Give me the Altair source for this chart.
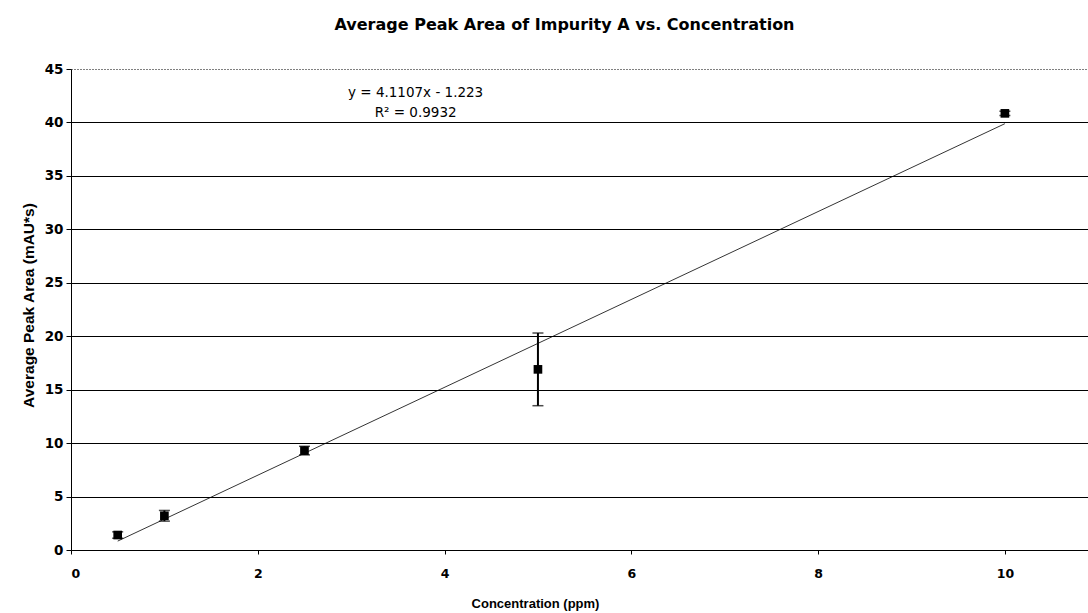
import altair as alt
import pandas as pd

# Data
conc = [0.5, 1.0, 2.5, 5.0, 10.0]
mean_area = [1.4, 3.2, 9.3, 16.9, 40.85]
err = [0.3, 0.5, 0.4, 3.4, 0.2]

slope = 4.1107
intercept = -1.223
eq_lines = ["y = 4.1107x - 1.223", "R² = 0.9932"]
eq_x = [3.69, 3.69]
eq_y = [42.38, 40.5]

x_ticks = [0, 2, 4, 6, 8, 10]
y_ticks = [0, 5, 10, 15, 20, 25, 30, 35, 40, 45]

df = pd.DataFrame({"x": conc, "y": mean_area, "e": err})
df["lo"] = df["y"] - df["e"]
df["hi"] = df["y"] + df["e"]

fit = pd.DataFrame({"x": [conc[0], conc[-1]]})
fit["y"] = slope * fit["x"] + intercept

eq = pd.DataFrame({"t": eq_lines, "x": eq_x, "y": eq_y})

FONT = "Liberation Sans"
WIDE = "DejaVu Sans"

xscale = alt.Scale(domain=[0, 10.89], nice=False, zero=False)
yscale = alt.Scale(domain=[0, 45], nice=False)

xaxis = alt.Axis(values=x_ticks, format="d", title="Concentration (ppm)", grid=False,
                 tickSize=4, labelPadding=13, labelFont=WIDE, labelFontSize=12.5,
                 labelFontWeight="bold",
                 titleFont=FONT, titleFontSize=13, titleFontWeight="bold",
                 titleX=464, titleY=47,
                 domainColor="black", tickColor="black", labelColor="black", titleColor="black")
yaxis = alt.Axis(values=y_ticks, format="d", title="Average Peak Area (mAU*s)", grid=True,
                 gridColor="black", gridWidth=1,
                 gridDash=alt.condition("datum.value == 45", alt.value([1, 2]), alt.value([])),
                 tickSize=5, labelPadding=3, labelFont=WIDE, labelFontSize=13.5,
                 labelFontWeight="bold",
                 titleFont=FONT, titleFontSize=15.5, titleFontWeight="bold",
                 titleAngle=270, titleBaseline="middle", titleAlign="center",
                 titleX=-43, titleY=236,
                 domainColor="black", tickColor="black", labelColor="black", titleColor="black")

base = alt.Chart(df)

fit_line = alt.Chart(fit).mark_line(color="black", strokeWidth=0.8).encode(
    x=alt.X("x:Q", scale=xscale, axis=xaxis),
    y=alt.Y("y:Q", scale=yscale, axis=yaxis),
)

bars = base.mark_rule(color="black", strokeWidth=2).encode(
    x="x:Q", y="lo:Q", y2="hi:Q"
)
cap_lo = base.mark_tick(color="black", orient="horizontal", size=11, thickness=1.5).encode(
    x="x:Q", y="lo:Q"
)
cap_hi = base.mark_tick(color="black", orient="horizontal", size=11, thickness=1.5).encode(
    x="x:Q", y="hi:Q"
)
pts = base.mark_square(color="black", size=75, opacity=1).encode(x="x:Q", y="y:Q")

eq_text = alt.Chart(eq).mark_text(font=WIDE, fontSize=13.5, color="black", align="center",
                                  baseline="alphabetic").encode(
    x="x:Q", y="y:Q", text="t:N"
)

chart = alt.layer(fit_line, bars, cap_lo, cap_hi, pts, eq_text).properties(
    width=1017, height=481,
    title=alt.TitleParams("Average Peak Area of Impurity A vs. Concentration",
                          font=WIDE, fontSize=16, fontWeight="bold", color="black",
                          baseline="alphabetic", offset=16, dx=-15),
    padding={"left": 71, "top": 69, "right": 0, "bottom": 63},
    autosize=alt.AutoSizeParams(type="none"),
).configure_view(stroke=None)

chart.save("out.html", embed_options={"renderer": "svg", "actions": False})
